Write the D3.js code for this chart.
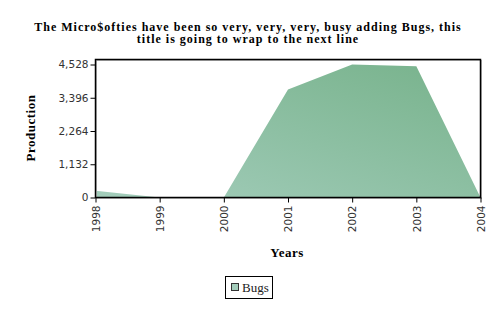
<!DOCTYPE html>
<html><head><meta charset="utf-8">
<script src="https://cdn.jsdelivr.net/npm/d3@7"></script>
<style>body{margin:0;background:#fff}svg{display:block}</style>
</head><body>
<script>
const titleLines = ["The Micro$ofties have been so very, very, very, busy adding Bugs, this", "title is going to wrap to the next line"];
const years = ["1998","1999","2000","2001","2002","2003","2004"];
const bugs = [230, 0, 0, 3680, 4528, 4470, 0];
const yTicks = [0, 1132, 2264, 3396, 4528];
const seriesName = "Bugs";
const xTitle = "Years", yTitle = "Production";

const W = 500, H = 320;
const svg = d3.select("body").append("svg").attr("width", W).attr("height", H);
const pL = 95.5, pR = 480.5, pT = 59.5, pB = 197.5;

const x = d3.scalePoint().domain(years).range([pL, pR]);
const y = d3.scaleLinear().domain([0, 4528]).range([pB, 64.5]);

const defs = svg.append("defs");
const g = defs.append("linearGradient").attr("id","fillg")
  .attr("x1","0%").attr("y1","100%").attr("x2","100%").attr("y2","0%");
g.append("stop").attr("offset","0%").attr("stop-color","#a3cdbb");
g.append("stop").attr("offset","100%").attr("stop-color","#77b28b");

// title
titleLines.forEach((l,i)=> svg.append("text").attr("text-anchor","middle")
  .attr("font-family","Liberation Serif").attr("font-weight","bold").attr("font-size",12)
  .attr("letter-spacing","1px").attr("fill","#000")
  .attr("x",248).attr("y",30.5+i*12.5).text(l));

// area
const area = d3.area().x((d,i)=>x(years[i])).y0(pB).y1(d=>y(d));
svg.append("path").datum(bugs).attr("d", area).attr("fill","url(#fillg)");

// frame shadow + frame
svg.append("rect").attr("x",pL+1).attr("y",pT+1).attr("width",pR-pL).attr("height",pB-pT)
  .attr("fill","none").attr("stroke","#bbb").attr("stroke-width",1);
svg.append("rect").attr("x",pL).attr("y",pT).attr("width",pR-pL).attr("height",pB-pT)
  .attr("fill","none").attr("stroke","#000").attr("stroke-width",1.5);

// y axis
const ya = svg.append("g").attr("transform",`translate(${pL},0)`)
  .call(d3.axisLeft(y).tickValues(yTicks).tickSize(5).tickPadding(2).tickFormat(d3.format(",")));
ya.select(".domain").remove();
ya.selectAll("text").attr("font-family","DejaVu Sans").attr("font-size",10.5).attr("fill","#333");
ya.selectAll("line").attr("stroke","#000");

// x axis
const xa = svg.append("g").attr("transform",`translate(0,${pB})`)
  .call(d3.axisBottom(x).tickSize(5).tickPadding(0));
xa.select(".domain").remove();
xa.selectAll("line").attr("stroke","#000");
xa.selectAll("text").attr("font-family","DejaVu Sans").attr("font-size",10.5).attr("fill","#333")
  .attr("text-anchor","end").attr("transform","rotate(-90)").attr("x",-8).attr("y",0).attr("dy","0.35em");

// axis titles
svg.append("text").attr("x",287).attr("y",257).attr("text-anchor","middle")
  .attr("font-family","Liberation Serif").attr("font-weight","bold").attr("font-size",13)
  .attr("letter-spacing","0.5px").text(xTitle);
svg.append("text").attr("transform","translate(35,128) rotate(-90)").attr("text-anchor","middle")
  .attr("font-family","Liberation Serif").attr("font-weight","bold").attr("font-size",13)
  .attr("letter-spacing","0.5px").text(yTitle);

// legend
svg.append("rect").attr("x",225.5).attr("y",276.5).attr("width",47).attr("height",22)
  .attr("fill","#fff").attr("stroke","#000").attr("stroke-width",1);
svg.append("rect").attr("x",231.5).attr("y",283.5).attr("width",7).attr("height",7)
  .attr("fill","#a3cdbb").attr("stroke","#333");
svg.append("text").attr("x",242).attr("y",292).attr("font-family","Liberation Serif")
  .attr("font-size",13).attr("fill","#222").text(seriesName);
</script>
</body></html>
